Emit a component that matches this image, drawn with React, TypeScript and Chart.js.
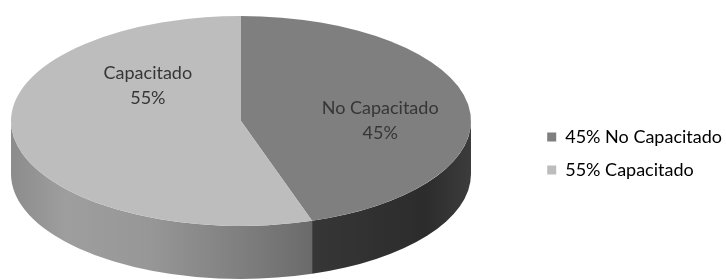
import React, { useEffect, useRef } from 'react';
import { Chart, registerables } from 'chart.js';

Chart.register(...registerables);

// ---- data ----
const categories: string[] = ['No Capacitado', 'Capacitado'];
const values: number[] = [45, 55];
const percentLabels: string[] = ['45%', '55%'];
const legendLabels: string[] = ['45% No Capacitado', '55% Capacitado'];

// ---- styles ----
const topColors = ['#7f7f7f', '#bdbdbd'];
const sideStops: [number, string][][] = [
  [[0.0, '#3a3a3a'], [0.66, '#363636'], [0.9, '#2c2c2c'], [1.0, '#3c3c3c']],
  [[0.0, '#8c8c8c'], [0.12, '#9e9e9e'], [0.3, '#979797'], [0.5, '#7f7f7f'], [0.68, '#676767'], [1.0, '#5a5a5a']],
];
const ELL = { cx: 241, cy: 121, rx: 230, ry: 105, depth: 53 };
// label anchors, in units of the ellipse radii, relative to its centre
const labelAnchors: [number, number][] = [[0.605, 0.0], [-0.405, -0.34]];
const FONT = "Lato, 'Open Sans', sans-serif";

const pie3d = {
  id: 'pie3d',
  beforeDatasetsDraw(chart: any) {
    const ctx: CanvasRenderingContext2D = chart.ctx;
    const meta = chart.getDatasetMeta(0);
    const arcs = meta.data as any[];
    if (!arcs.length) return;
    const { x, y, outerRadius } = arcs[0].getProps(['x', 'y', 'outerRadius'], true);
    const { cx, cy, rx, ry, depth } = ELL;
    ctx.save();
    // side walls (front half of the ellipse)
    arcs.forEach((arc: any, i: number) => {
      const { startAngle, endAngle } = arc.getProps(['startAngle', 'endAngle'], true);
      const grad = ctx.createLinearGradient(cx - rx, 0, cx + rx, 0);
      sideStops[i].forEach(([o, c]) => grad.addColorStop(o, c));
      for (let k = -1; k <= 1; k++) {
        const lo = Math.max(startAngle, k * 2 * Math.PI);
        const hi = Math.min(endAngle, k * 2 * Math.PI + Math.PI);
        if (hi <= lo) continue;
        ctx.beginPath();
        ctx.ellipse(cx, cy, rx, ry, 0, lo, hi, false);
        ctx.ellipse(cx, cy + depth, rx, ry, 0, hi, lo, true);
        ctx.closePath();
        ctx.fillStyle = grad;
        ctx.fill();
      }
    });
    // flatten the pie to the top ellipse
    ctx.translate(cx, cy);
    ctx.scale(rx / outerRadius, ry / outerRadius);
    ctx.translate(-x, -y);
  },
  afterDatasetsDraw(chart: any) {
    const ctx: CanvasRenderingContext2D = chart.ctx;
    ctx.restore();
    const { cx, cy, rx, ry } = ELL;
    ctx.save();
    ctx.font = `18px ${FONT}`;
    ctx.fillStyle = '#363636';
    ctx.textAlign = 'center';
    ctx.textBaseline = 'middle';
    categories.forEach((c, i) => {
      const [ux, uy] = labelAnchors[i];
      const px = cx + ux * rx;
      const py = cy + uy * ry;
      ctx.fillText(c, px, py - 12.5);
      ctx.fillText(percentLabels[i], px, py + 12.5);
    });
    ctx.restore();
  },
};

export default function App() {
  const ref = useRef<HTMLCanvasElement | null>(null);
  useEffect(() => {
    document.body.style.margin = '0';
    const canvas = ref.current!;
    const chart = new Chart(canvas, {
      type: 'pie',
      data: {
        labels: categories,
        datasets: [
          {
            data: values,
            backgroundColor: topColors,
            borderWidth: 0,
            clip: false as any,
          },
        ],
      },
      options: {
        responsive: false,
        animation: false,
        devicePixelRatio: 1,
        layout: { padding: { right: -6, top: 28 } },
        plugins: {
          tooltip: { enabled: false },
          legend: {
            position: 'right',
            align: 'center',
            labels: {
              boxWidth: 9,
              boxHeight: 9,
              padding: 15,
              color: '#404040',
              font: { family: FONT, size: 18 },
              generateLabels: () =>
                legendLabels.map((t, i) => ({
                  text: t,
                  fillStyle: topColors[i],
                  strokeStyle: topColors[i],
                  lineWidth: 0,
                  hidden: false,
                  index: i,
                  datasetIndex: 0,
                })),
            },
          },
        },
      },
      plugins: [pie3d],
    });
    return () => chart.destroy();
  }, []);
  return (
    <div style={{ width: 726, height: 279, background: '#fff' }}>
      <canvas ref={ref} width={726} height={279} />
    </div>
  );
}
